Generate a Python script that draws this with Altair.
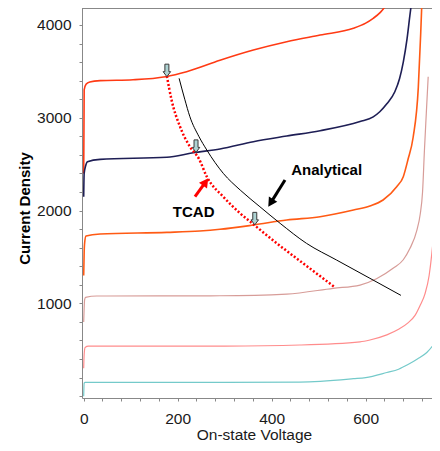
import altair as alt
import pandas as pd

# ---- data ----
c1_v = [0, 1, 5, 13, 35, 105, 174, 219, 290, 361, 432, 503, 574, 600, 616, 630, 643, 652]
c1_j = [2400, 3300, 3360, 3385, 3400, 3410, 3443, 3497, 3620, 3730, 3820, 3892, 3964, 4020, 4072, 4130, 4215, 4320]

c2_v = [0, 1, 4, 8, 35, 177, 233, 290, 361, 432, 503, 588, 616, 630, 645, 662, 672, 680, 688, 694, 699]
c2_j = [2150, 2400, 2480, 2526, 2552, 2574, 2623, 2663, 2742, 2803, 2861, 2960, 3010, 3065, 3150, 3280, 3420, 3600, 3850, 4100, 4300]

c3_v = [0, 1, 2, 5, 35, 177, 247, 290, 361, 432, 503, 574, 609, 637, 666, 680, 690, 701, 712, 717, 720]
c3_j = [1300, 1550, 1650, 1725, 1747, 1765, 1780, 1798, 1844, 1898, 1934, 2006, 2050, 2114, 2257, 2365, 2550, 2790, 3330, 3900, 4300]

c4_v = [0, 1, 2, 4, 28, 290, 432, 531, 588, 623, 659, 680, 694, 709, 716, 721, 725, 729, 733]
c4_j = [800, 950, 1040, 1065, 1079, 1082, 1100, 1162, 1197, 1265, 1380, 1470, 1590, 1790, 1960, 2200, 2650, 3050, 3442]

c5_v = [0, 1, 3, 10, 300, 460, 588, 609, 645, 670, 690, 705, 716, 726, 735, 742, 748, 751]
c5_j = [300, 450, 525, 538, 540, 551, 585, 605, 660, 720, 790, 870, 980, 1100, 1300, 1600, 1950, 2250]

c6_v = [0, 1, 3, 300, 460, 574, 600, 645, 670, 690, 710, 730, 745, 760]
c6_j = [0, 140, 149, 149, 152, 188, 200, 255, 290, 340, 400, 470, 560, 680]

tcad_v = [177, 187, 205, 226, 245, 262, 297, 333, 364, 411, 467, 533]
tcad_j = [3450, 3191, 2904, 2688, 2560, 2365, 2149, 1970, 1840, 1647, 1431, 1179]

anal_v = [203, 215, 226, 245, 262, 297, 333, 375, 418, 474, 538, 609, 675]
anal_j = [3425, 3200, 3011, 2800, 2652, 2401, 2221, 2041, 1862, 1647, 1467, 1270, 1086]

marker_v = [177, 239, 364]
marker_j = [3443, 2627, 1846]

label_text = ["TCAD", "Analytical"]
label_v = [234, 517]
label_j = [1987, 2437]

# annotation arrows: tail, shaft end, tip
tcad_arrow_v = [236.8, 257.7, 265.1]
tcad_arrow_j = [2149, 2295, 2347]
anal_arrow_v = [428.3, 399.6, 392.8]
anal_arrow_j = [2329, 2096, 2041]

curves = [
    (c1_v, c1_j, "#FF3A14", 1.6),
    (c2_v, c2_j, "#1E1E55", 1.6),
    (c3_v, c3_j, "#FF5A14", 1.6),
    (c4_v, c4_j, "#D79C98", 1.2),
    (c5_v, c5_j, "#FF8C8C", 1.2),
    (c6_v, c6_j, "#74CACA", 1.2),
]

FONT = "Liberation Sans"
PLOT_W = 350
PLOT_H = 390

x_enc = alt.X(
    "v:Q",
    scale=alt.Scale(domain=[-3.6, 741.1], nice=False, zero=False),
    axis=alt.Axis(
        values=list(range(0, 760, 40)),
        labelExpr="datum.value % 200 == 0 ? datum.label : ''",
        format="d",
        title="On-state Voltage",
        grid=False,
        tickSize=3,
        labelPadding=10,
        labelOverlap=False,
        labelFlush=False,
        labelFontSize=15.5,
        labelFont=FONT,
        labelColor="#1a1a1a",
        titleFont=FONT,
        titleFontSize=15.5,
        titleFontWeight="normal",
        titleColor="#1a1a1a",
        titleX=172,
        titleY=41,
        titleBaseline="alphabetic",
        domainColor="#888888",
        tickColor="#888888",
    ),
)
y_enc = alt.Y(
    "j:Q",
    scale=alt.Scale(domain=[-20, 4183], nice=False, zero=False),
    axis=alt.Axis(
        values=list(range(0, 4200, 200)),
        labelExpr="datum.value % 1000 == 0 && datum.value > 0 ? datum.label : ''",
        format="d",
        title="Current Density",
        grid=False,
        tickSize=3,
        labelPadding=8,
        labelOverlap=False,
        labelFlush=False,
        labelFontSize=15.5,
        labelFont=FONT,
        labelColor="#1a1a1a",
        titleFont=FONT,
        titleFontSize=15,
        titleFontWeight="bold",
        titleColor="#000000",
        titleX=-53,
        titleY=200,
        titleBaseline="alphabetic",
        titleAngle=270,
        domainColor="#888888",
        tickColor="#888888",
    ),
)

layers = []

# top frame line
layers.append(
    alt.Chart(pd.DataFrame({"v": [0]})).mark_rule(color="#888888", strokeWidth=1)
    .encode(x=alt.value(0), x2=alt.value(PLOT_W), y=alt.value(0.5))
)

for vs, js, col, w in curves:
    df = pd.DataFrame({"v": vs, "j": js})
    layers.append(
        alt.Chart(df).mark_line(color=col, strokeWidth=w, interpolate="monotone", clip=True)
        .encode(x=x_enc, y=y_enc)
    )

layers.append(
    alt.Chart(pd.DataFrame({"v": anal_v, "j": anal_j}))
    .mark_line(color="#000000", strokeWidth=1, interpolate="monotone", clip=True)
    .encode(x=x_enc, y=y_enc)
)
layers.append(
    alt.Chart(pd.DataFrame({"v": tcad_v, "j": tcad_j}))
    .mark_line(color="#FF0000", strokeWidth=2.5, strokeDash=[2, 2], interpolate="monotone", clip=True)
    .encode(x=x_enc, y=y_enc)
)

down_arrow = "M-0.16,-1L0.16,-1L0.16,-0.4L0.3,-0.4L0,0L-0.3,-0.4L-0.16,-0.4Z"
layers.append(
    alt.Chart(pd.DataFrame({"v": marker_v, "j": marker_j}))
    .mark_point(shape=down_arrow, size=625, filled=True, fill="#AED3D3",
                stroke="#3a3a3a", strokeWidth=1, opacity=1)
    .encode(x=x_enc, y=y_enc)
)

head = "M0,0L0.55,1L-0.55,1Z"
for av, aj, col, ang in [(tcad_arrow_v, tcad_arrow_j, "#FF0000", 36),
                         (anal_arrow_v, anal_arrow_j, "#000000", 212)]:
    rule_df = pd.DataFrame({"v": [av[0]], "j": [aj[0]], "v2": [av[1]], "j2": [aj[1]]})
    layers.append(
        alt.Chart(rule_df).mark_rule(color=col, strokeWidth=3)
        .encode(x=x_enc, y=y_enc, x2="v2:Q", y2="j2:Q")
    )
    layers.append(
        alt.Chart(pd.DataFrame({"v": [av[2]], "j": [aj[2]]}))
        .mark_point(shape=head, size=324, filled=True, fill=col, opacity=1, angle=ang)
        .encode(x=x_enc, y=y_enc)
    )

layers.append(
    alt.Chart(pd.DataFrame({"v": label_v, "j": label_j, "t": label_text}))
    .mark_text(font=FONT, fontSize=15, fontWeight="bold", color="#000000",
               align="center", baseline="middle")
    .encode(x=x_enc, y=y_enc, text="t:N")
)

chart = (
    alt.layer(*layers)
    .properties(
        width=PLOT_W,
        height=PLOT_H,
        autosize=alt.AutoSizeParams(type="none"),
        padding={"left": 74, "top": 0, "right": 0, "bottom": 45},
        background="white",
    )
    .configure_view(stroke=None)
)

chart.save("out.html", embed_options={"renderer": "svg", "actions": False})
